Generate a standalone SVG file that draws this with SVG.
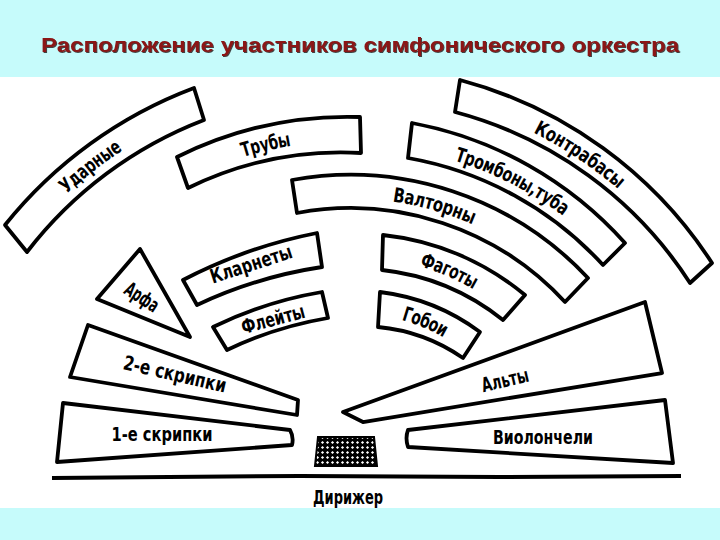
<svg xmlns="http://www.w3.org/2000/svg" width="720" height="540" viewBox="0 0 720 540">
<style>
.band{fill:#c6fbfb}
.sh{fill:#fff;stroke:#000;stroke-width:3.8;stroke-linejoin:round}
.lbl{font-family:"DejaVu Sans Condensed","Liberation Sans Narrow","Liberation Sans",sans-serif;font-weight:bold;font-size:20px;fill:#000}
.title{font-family:"Liberation Sans",Arial,sans-serif;font-weight:bold;font-size:20px;fill:#8b1414}
</style>
<defs>
<filter id="shadow" x="-5%" y="-30%" width="110%" height="160%">
<feDropShadow dx="1" dy="1" stdDeviation="0.3" flood-color="#2a2020" flood-opacity="0.85"/>
</filter>
<pattern id="hatch" width="5" height="5" patternUnits="userSpaceOnUse">
<rect width="5" height="5" fill="#000"/>
<polygon points="2.5,0.9 4.1,2.5 2.5,4.1 0.9,2.5" fill="#fff"/>
</pattern>
<path id="pUd" d="M18.7,235.4 A424,424 0 0 1 200,103.4"/>
<path id="pTr" d="M185,173.2 A366,366 0 0 1 359.6,134.1"/>
<path id="pVa" d="M294.8,196.5 A308.5,308.5 0 0 1 575.6,289.6"/>
<path id="pTb" d="M408.5,142.7 A362,362 0 0 1 614.3,252.6"/>
<path id="pKb" d="M456,96.1 A417.5,417.5 0 0 1 699.4,271.4"/>
<path id="pFa" d="M381,250.9 A251,251 0 0 1 513,309.1"/>
<path id="pGo" d="M377.7,307.5 A194.5,194.5 0 0 1 468.9,346"/>
</defs>

<rect width="720" height="540" fill="#fff"/>
<rect class="band" x="0" y="0" width="720" height="77"/>
<rect class="band" x="0" y="508" width="720" height="32"/>
<text class="title" x="360" y="52" text-anchor="middle" textLength="638" lengthAdjust="spacingAndGlyphs" filter="url(#shadow)">Расположение участников симфонического оркестра</text>

<g id="udarnye">
<path class="sh" d="M5,225 A441,441 0 0 1 194,88 L204,120 A407,407 0 0 0 27,252 Z"/>
<text class="lbl" dominant-baseline="central"><textPath href="#pUd" startOffset="44%" text-anchor="middle" textLength="72" lengthAdjust="spacingAndGlyphs">Ударные</textPath></text>
</g>
<g id="truby">
<path class="sh" d="M177,157 A383,383 0 0 1 360,117 L361,153 A349,349 0 0 0 188,188 Z"/>
<text class="lbl" dominant-baseline="central"><textPath href="#pTr" startOffset="47.5%" text-anchor="middle" textLength="50" lengthAdjust="spacingAndGlyphs">Трубы</textPath></text>
</g>
<g id="kontrabasy">
<path class="sh" d="M460,80 A433,433 0 0 1 712,263 L690,283 A402,402 0 0 0 455,112 Z"/>
<text class="lbl" dominant-baseline="central"><textPath href="#pKb" startOffset="45%" text-anchor="middle" textLength="104" lengthAdjust="spacingAndGlyphs">Контрабасы</textPath></text>
</g>
<g id="trombony">
<path class="sh" d="M412,123 A379,379 0 0 1 625,243 L603,265 A346,346 0 0 0 408,158 Z"/>
<text class="lbl" dominant-baseline="central"><textPath href="#pTb" startOffset="47%" text-anchor="middle" textLength="125" lengthAdjust="spacingAndGlyphs">Тромбоны,туба</textPath></text>
</g>
<g id="valtorny">
<path class="sh" d="M292,180 A325,325 0 0 1 588,278 L565,302 A292,292 0 0 0 297,213 Z"/>
<text class="lbl" dominant-baseline="central"><textPath href="#pVa" startOffset="46%" text-anchor="middle" textLength="85" lengthAdjust="spacingAndGlyphs">Валторны</textPath></text>
</g>
<g id="fagoty">
<path class="sh" d="M383,235 A268,268 0 0 1 525,295 L503,320 A234,234 0 0 0 382,270 Z"/>
<text class="lbl" dominant-baseline="central"><textPath href="#pFa" startOffset="49%" text-anchor="middle" textLength="60" lengthAdjust="spacingAndGlyphs">Фаготы</textPath></text>
</g>
<g id="goboi">
<path class="sh" d="M380,292 A211,211 0 0 1 480,332 L463,358 A178,178 0 0 0 378,327 Z"/>
<text class="lbl" dominant-baseline="central"><textPath href="#pGo" startOffset="50%" text-anchor="middle" textLength="47" lengthAdjust="spacingAndGlyphs">Гобои</textPath></text>
</g>
<g id="klarnety">
<path class="sh" d="M183,280 A500,500 0 0 1 317,233 L322,267 A450,450 0 0 0 197,305 Z"/>
<text class="lbl" x="251" y="264" text-anchor="middle" dominant-baseline="central" textLength="85" lengthAdjust="spacingAndGlyphs" transform="rotate(-18 251 264)">Кларнеты</text>
</g>
<g id="fleyty">
<path class="sh" d="M213,327 A400,400 0 0 1 322,292 L328,318 A380,380 0 0 0 227,350 Z"/>
<text class="lbl" x="273" y="319" text-anchor="middle" dominant-baseline="central" textLength="65" lengthAdjust="spacingAndGlyphs" transform="rotate(-15 273 319)">Флейты</text>
</g>
<g id="arfa">
<polygon class="sh" points="140,249 97,299 190,337"/>
<text class="lbl" x="142" y="297" text-anchor="middle" dominant-baseline="central" textLength="37" lengthAdjust="spacingAndGlyphs" transform="rotate(33 142 297)">Арфа</text>
</g>
<g id="skripki2">
<polygon class="sh" points="88,325 298,400 297,415 70,377"/>
<text class="lbl" x="175" y="374" text-anchor="middle" dominant-baseline="central" textLength="105" lengthAdjust="spacingAndGlyphs" transform="rotate(13 175 374)">2-е скрипки</text>
</g>
<g id="skripki1">
<path class="sh" d="M63,403 L290,430 Q294,437 292,445 L57,462 Z"/>
<text class="lbl" x="162" y="434" text-anchor="middle" dominant-baseline="central" textLength="101" lengthAdjust="spacingAndGlyphs">1-е скрипки</text>
</g>
<g id="alty">
<polygon class="sh" points="343,412 645,302 662,373 363,422"/>
<text class="lbl" x="505" y="380" text-anchor="middle" dominant-baseline="central" textLength="48" lengthAdjust="spacingAndGlyphs" transform="rotate(-13 505 380)">Альты</text>
</g>
<g id="violoncheli">
<path class="sh" d="M408,430 L665,400 L673,463 L408,447 Q405,438 408,430 Z"/>
<text class="lbl" x="543" y="437" text-anchor="middle" dominant-baseline="central" textLength="100" lengthAdjust="spacingAndGlyphs">Виолончели</text>
</g>
<g id="podium">
<polygon points="318,437 374,437 377,466 315,466" fill="url(#hatch)" stroke="#000" stroke-width="2"/>
</g>
<g id="rampa">
<path d="M52,478 L300,476 L500,477 L681,476" fill="none" stroke="#000" stroke-width="4"/>
</g>
<g id="dirizher">
<text class="lbl" x="348" y="497" text-anchor="middle" dominant-baseline="central" textLength="70" lengthAdjust="spacingAndGlyphs">Дирижер</text>
</g>
</svg>
